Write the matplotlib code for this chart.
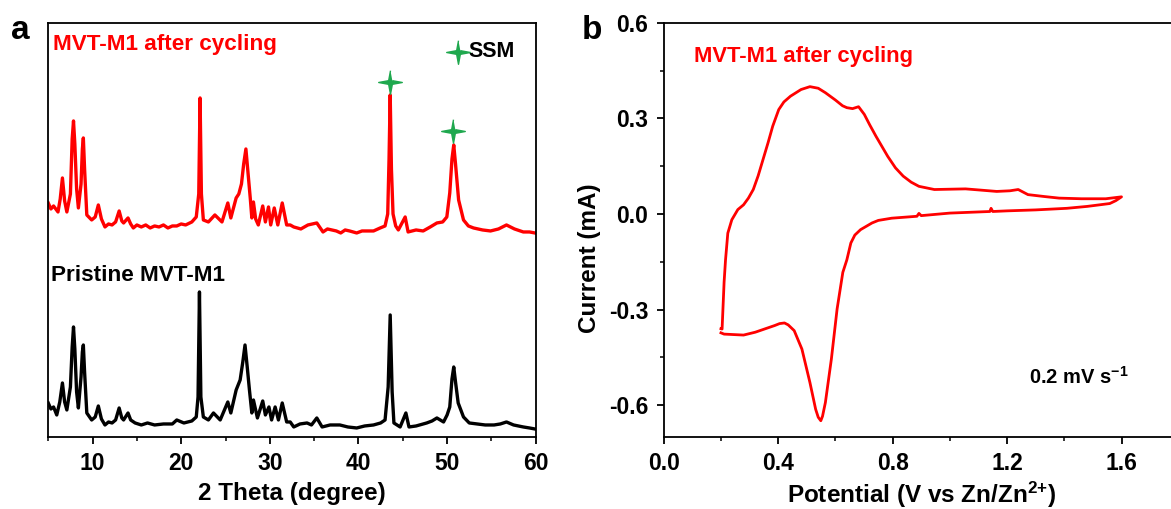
import numpy as np
import matplotlib
matplotlib.use("Agg")
import matplotlib.pyplot as plt
from matplotlib.ticker import MultipleLocator
from matplotlib.path import Path

# ─── Dades XRD (2θ, intensitat a.u.) ───
cyc_2theta = [5.0, 5.3, 5.6, 6.1, 6.35, 6.6, 6.85, 7.1, 7.5, 7.7, 7.85, 8.0, 8.2, 8.4,
              8.7, 8.85, 8.96, 9.1, 9.35, 9.9, 10.3, 10.65, 11.0, 11.4, 11.8, 12.2,
              12.6, 13.0, 13.3, 13.5, 14.0, 14.3, 14.6, 15.0, 15.5, 16.0, 16.5, 17.0,
              17.5, 18.0, 18.5, 19.0, 19.5, 20.0, 20.5, 21.2, 21.7, 21.98, 22.13,
              22.28, 22.5, 23.07, 23.8, 24.6, 25.26, 25.6, 26.2, 26.5, 26.8, 27.05,
              27.3, 27.5, 27.8, 27.97, 28.15, 28.4, 28.7, 29.2, 29.5, 29.85, 30.1,
              30.5, 30.9, 31.4, 31.9, 32.3, 32.7, 33.5, 34.3, 35.3, 36.0, 36.5, 37.0,
              37.5, 38.0, 38.5, 39.0, 39.8, 40.4, 41.0, 41.7, 42.45, 43.0, 43.3,
              43.45, 43.58, 43.72, 43.9, 44.2, 44.5, 45.27, 45.6, 46.5, 47.3, 48.1,
              48.85, 49.5, 49.97, 50.3, 50.55, 50.75, 50.95, 51.3, 51.85, 52.4,
              52.98, 54.0, 54.9, 55.8, 56.7, 57.6, 58.6, 59.3, 59.9]
cyc_int = [36, 30, 33, 27, 40, 61, 38, 27, 45, 100, 118, 95, 50, 31,
           55, 90, 101, 70, 24, 19, 22, 34, 20, 12, 15, 14,
           17, 28, 18, 16, 21, 15, 11, 14, 12, 14, 11, 13,
           12, 14, 11, 13, 13, 15, 14, 17, 22, 45, 141,
           45, 19, 17, 24, 17, 36, 21, 41, 45, 55, 75,
           90, 70, 40, 21, 37, 20, 14, 33, 17, 32, 14,
           31, 14, 36, 14, 14, 12, 10, 14, 16, 7, 10, 9,
           8, 6, 9, 8, 6, 8, 8, 8, 11, 13, 25,
           80, 144, 70, 25, 13, 9, 22, 7, 9, 8, 12,
           16, 17, 22, 46, 80, 94, 75, 39, 19, 13,
           11, 9, 8, 10, 14, 10, 7, 7, 6]

pri_2theta = [5.0, 5.3, 5.6, 5.96, 6.3, 6.6, 6.85, 7.1, 7.5, 7.7, 7.85, 8.0, 8.2, 8.4,
              8.7, 8.85, 8.96, 9.1, 9.35, 9.9, 10.3, 10.65, 11.0, 11.4, 11.8, 12.2,
              12.6, 13.0, 13.3, 13.5, 14.0, 14.3, 14.8, 15.5, 16.2, 17.0, 18.0, 19.0,
              19.5, 20.3, 21.2, 21.7, 21.9, 22.06, 22.22, 22.5, 23.07, 23.64, 24.4,
              25.26, 25.6, 26.2, 26.65, 26.95, 27.2, 27.45, 27.7, 27.97, 28.15, 28.6,
              29.2, 29.5, 29.9, 30.2, 30.6, 30.97, 31.4, 31.9, 32.3, 32.7, 33.4, 34.2,
              34.7, 35.3, 35.9, 36.8, 37.9, 38.8, 39.8, 40.7, 41.7, 42.5, 43.0, 43.35,
              43.58, 43.8, 44.0, 44.7, 45.35, 45.7, 46.5, 47.7, 48.3, 48.85, 49.6,
              50.0, 50.3, 50.55, 50.75, 50.95, 51.25, 51.85, 52.5, 53.4, 54.3, 55.3,
              56.0, 56.7, 57.5, 58.6, 59.3, 59.9]
pri_int = [34, 28, 30, 22, 35, 54, 35, 27, 50, 90, 110, 88, 45, 29,
           60, 85, 92, 65, 24, 17, 20, 31, 18, 12, 15, 14,
           17, 29, 19, 17, 24, 17, 14, 12, 14, 12, 13, 13,
           17, 14, 16, 20, 40, 145, 40, 20, 17, 24, 17,
           35, 24, 47, 57, 75, 92, 70, 47, 24, 37, 19,
           36, 22, 30, 17, 30, 17, 34, 15, 15, 10, 13, 14,
           12, 19, 10, 12, 12, 10, 9, 11, 12, 14, 17, 50,
           122, 45, 14, 10, 24, 10, 11, 14, 16, 19, 15,
           22, 30, 58, 70, 55, 34, 20, 14, 13, 12, 12,
           13, 15, 12, 10, 9, 8]

OFFSET = 198
ssm_2theta = [43.58, 50.7]
ssm_int = [157, 108]

# ─── Dades CV (V, mA) ───
cv_v = [0.200, 0.204, 0.211, 0.216, 0.224, 0.238, 0.259, 0.279, 0.296, 0.313, 0.330,
        0.347, 0.365, 0.381, 0.402, 0.420, 0.443, 0.480, 0.511, 0.540, 0.565, 0.600,
        0.625, 0.640, 0.660, 0.681, 0.701, 0.720, 0.742, 0.783, 0.810, 0.837, 0.865,
        0.892, 0.946, 1.000, 1.055, 1.110, 1.164, 1.210, 1.239, 1.273, 1.330, 1.382,
        1.460, 1.545, 1.600,
        1.580, 1.559, 1.480, 1.409, 1.300, 1.200, 1.150, 1.144, 1.140, 1.000,
        0.900, 0.892, 0.885, 0.797, 0.750, 0.728, 0.688, 0.668, 0.654, 0.640, 0.626,
        0.606, 0.586, 0.565, 0.555, 0.549, 0.540, 0.531, 0.511, 0.483, 0.456, 0.435,
        0.422, 0.405, 0.388, 0.320, 0.279, 0.211, 0.200]
cv_i = [-0.360, -0.361, -0.214, -0.144, -0.060, -0.018, 0.014, 0.029, 0.050, 0.077, 0.120,
        0.171, 0.225, 0.276, 0.328, 0.352, 0.370, 0.391, 0.400, 0.395, 0.381, 0.358,
        0.340, 0.334, 0.331, 0.337, 0.313, 0.280, 0.244, 0.181, 0.145, 0.119, 0.100,
        0.087, 0.077, 0.078, 0.079, 0.075, 0.071, 0.073, 0.077, 0.061, 0.055, 0.050,
        0.048, 0.048, 0.054,
        0.042, 0.033, 0.024, 0.018, 0.013, 0.010, 0.008, 0.018, 0.008, 0.003,
        -0.005, 0.002, -0.007, -0.013, -0.020, -0.028, -0.049, -0.066, -0.091, -0.144,
        -0.183, -0.298, -0.455, -0.592, -0.635, -0.649, -0.638, -0.613, -0.529, -0.424,
        -0.366, -0.348, -0.342, -0.344, -0.350, -0.371, -0.380, -0.377, -0.373]

RED = "#FF0000"
GREEN = "#1FA84E"

# estrella de 4 puntes fina
ang = np.arange(8) * np.pi / 4 + np.pi / 2
rad = np.where(np.arange(8) % 2 == 0, 1.0, 0.22)
star = Path(np.column_stack([rad * np.cos(ang), rad * np.sin(ang)]))

plt.rcParams['font.family'] = ['Liberation Sans', 'DejaVu Sans']
plt.rcParams['font.weight'] = 'bold'
plt.rcParams['mathtext.fontset'] = 'custom'
plt.rcParams['mathtext.rm'] = 'Liberation Sans:bold'
plt.rcParams['mathtext.bf'] = 'Liberation Sans:bold'
plt.rcParams['mathtext.it'] = 'Liberation Sans:bold'
plt.rcParams['axes.unicode_minus'] = False

fig = plt.figure(figsize=(11.71, 5.09), dpi=100)
axa = fig.add_axes([0.0412, 0.1415, 0.4163, 0.8134])
axb = fig.add_axes([0.5668, 0.1415, 0.4398, 0.8134])

# ─── Panel a ───
axa.plot(cyc_2theta, np.array(cyc_int) + OFFSET, color=RED, lw=2.4)
axa.plot(pri_2theta, pri_int, color='black', lw=2.4)
axa.plot(ssm_2theta, np.array(ssm_int) + OFFSET, ls='none', marker=star,
         ms=17, color=GREEN, mec=GREEN)
axa.plot([0.84], [0.93], transform=axa.transAxes, marker=star, ms=17,
         color=GREEN, mec=GREEN)
axa.text(0.862, 0.93, 'SSM', transform=axa.transAxes, fontsize=15.5,
         fontweight='bold', va='center', ha='left')
axa.text(0.01, 0.949, 'MVT-M1 after cycling', transform=axa.transAxes,
         fontsize=16.2, fontweight='bold', color=RED, va='center')
axa.text(0.006, 0.391, 'Pristine MVT-M1', transform=axa.transAxes,
         fontsize=16.2, fontweight='bold', color='black', va='center')
axa.set_xlim(5, 60)
axa.set_ylim(0, 414)
axa.set_yticks([])
axa.xaxis.set_major_locator(MultipleLocator(10))
axa.xaxis.set_minor_locator(MultipleLocator(5))
axa.set_xlabel('2 Theta (degree)', fontsize=17.5, fontweight='bold', va='center')
axa.xaxis.set_label_coords(0.5, -0.137)

# ─── Panel b ───
axb.plot(cv_v, cv_i, color=RED, lw=2.0)
axb.text(0.106, 0.494, 'MVT-M1 after cycling', fontsize=15.8,
         fontweight='bold', color=RED, va='center')
axb.text(1.276, -0.51, r'0.2 mV s$^{\mathbf{-1}}$', fontsize=14.5,
         fontweight='bold', va='center')
axb.set_xlim(0, 1.8)
axb.set_ylim(-0.7, 0.6)
axb.xaxis.set_major_locator(MultipleLocator(0.4))
axb.xaxis.set_minor_locator(MultipleLocator(0.2))
axb.yaxis.set_major_locator(MultipleLocator(0.3))
axb.yaxis.set_minor_locator(MultipleLocator(0.15))
axb.xaxis.set_major_formatter(plt.FormatStrFormatter('%.1f'))
axb.yaxis.set_major_formatter(plt.FormatStrFormatter('%.1f'))
axb.set_xlabel(r'Potential (V vs Zn/Zn$^{2{+}}$)', fontsize=17.5,
               fontweight='bold', va='center')
axb.xaxis.set_label_coords(0.5, -0.14)
axb.set_ylabel('Current (mA)', fontsize=17.5, fontweight='bold')
axb.yaxis.set_label_coords(-0.122, 0.432)

for ax in (axa, axb):
    for s in ax.spines.values():
        s.set_linewidth(1.3)
    ax.tick_params(which='major', direction='out', length=5, width=1.3,
                   labelsize=16.5, pad=6)
    ax.tick_params(which='minor', direction='out', length=3, width=1.1)
    for lbl in ax.get_xticklabels() + ax.get_yticklabels():
        lbl.set_fontweight('bold')

fig.text(0.009, 0.94, 'a', fontsize=24, fontweight='bold', va='center')
fig.text(0.497, 0.94, 'b', fontsize=24, fontweight='bold', va='center')

fig.savefig('out.png', dpi=100)
